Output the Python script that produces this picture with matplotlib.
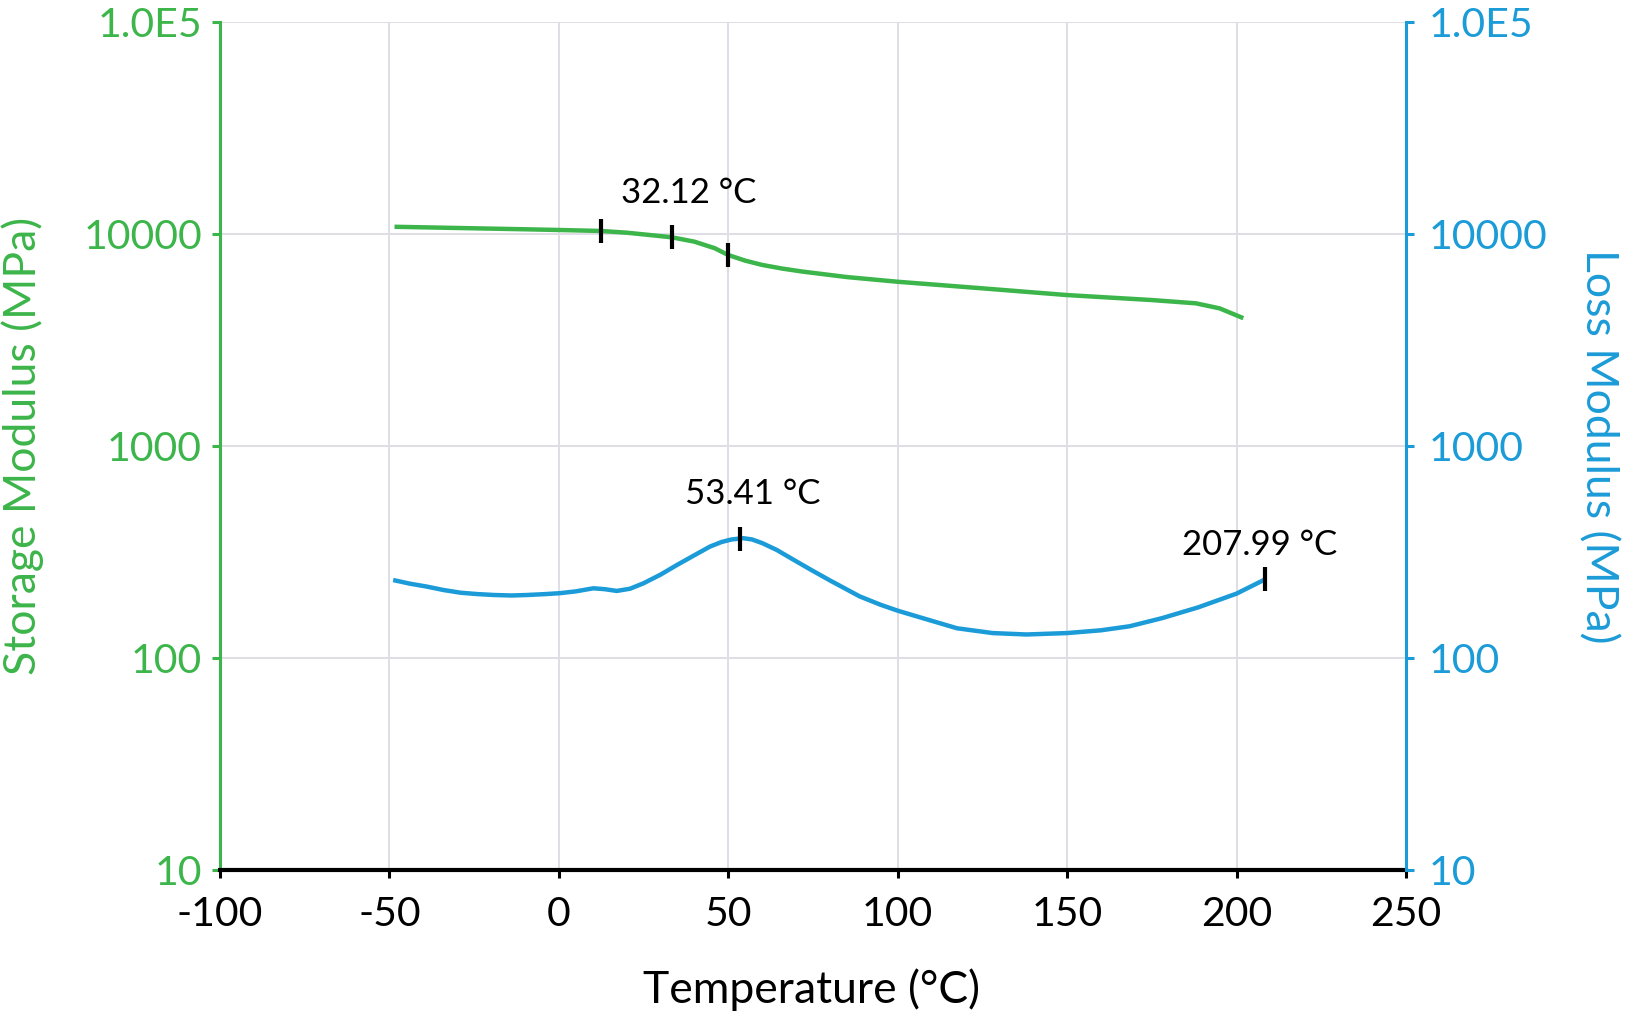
import numpy as np
import matplotlib
matplotlib.use("Agg")
import matplotlib.pyplot as plt
from matplotlib.ticker import FixedLocator, FixedFormatter, NullLocator

# ---------------- data ----------------
storage_temp = [-48.5, -30, -10, 0, 12.4, 20, 27, 33.4, 40, 46, 49.9, 55, 60, 66, 72,
                85, 100, 125, 150, 175, 188, 195, 202]
storage_mod = [10790, 10650, 10500, 10420, 10310, 10120, 9860, 9620, 9180, 8550, 7950,
               7470, 7130, 6850, 6630, 6250, 5940, 5530, 5140, 4870, 4700, 4450, 4000]

loss_temp = [-48.9, -44, -39, -34, -29, -24, -19, -14, -9.5, -4, 0.3, 5, 10.2, 13.5, 17.1,
             21, 25, 30, 34.8, 40, 44.6, 48, 51, 54.4, 57, 60, 64.3, 69, 74.1, 80, 88.8,
             95, 100, 108, 117.5, 128, 138, 150, 160, 168.4, 178, 188.6, 200, 208.5]
loss_mod = [233, 224, 217, 209, 203, 200, 198, 197, 198, 200, 202, 206, 213, 211, 207,
            212, 225, 247, 274, 305, 335, 352, 362, 367, 362, 348, 323, 292, 262, 232, 195,
            178, 167, 153, 138, 131, 129, 131, 135, 141, 154, 173, 201, 235]

storage_markers = [12.4, 33.4, 49.9]
storage_label = "32.12 °C"
loss_markers = [53.41, 208.5]
loss_labels = ["53.41 °C", "207.99 °C"]

x_ticks = [-100, -50, 0, 50, 100, 150, 200, 250]
y_ticks = [10, 100, 1000, 10000, 100000]
y_tick_labels = ["10", "100", "1000", "10000", "1.0E5"]

GREEN = "#3cb54a"
BLUE = "#1b9bd7"
GRID = "#dedee4"

plt.rcParams['font.family'] = ['Lato', 'DejaVu Sans']

fig = plt.figure(figsize=(16.25, 10.14), dpi=100)
ax = fig.add_axes([0.1354, 0.142, 0.7298, 0.8366])
ax2 = ax.twinx()

for a in (ax, ax2):
    a.set_yscale('log')
    a.set_ylim(10, 100000)
    a.yaxis.set_major_locator(FixedLocator(y_ticks))
    a.yaxis.set_major_formatter(FixedFormatter(y_tick_labels))
    a.yaxis.set_minor_locator(NullLocator())
ax.set_xlim(-100, 250)
ax.set_xticks(x_ticks)
ax.set_xticklabels([str(v) for v in x_ticks])

ax.grid(True, color=GRID, lw=1.4, zorder=0)
ax.set_axisbelow(True)

ax.spines['top'].set_visible(False)
ax.spines['right'].set_visible(False)
ax.spines['left'].set_color(GREEN)
ax.spines['left'].set_linewidth(2.2)
ax.spines['bottom'].set_color('black')
ax.spines['bottom'].set_linewidth(3.0)
ax.spines['bottom'].set_zorder(5)
for s in ('top', 'left', 'bottom'):
    ax2.spines[s].set_visible(False)
ax2.spines['right'].set_color(BLUE)
ax2.spines['right'].set_linewidth(2.2)

tick_font = 29.5
ax.tick_params(axis='y', colors=GREEN, labelcolor=GREEN, length=6, width=2.2,
               labelsize=tick_font, pad=7)
ax.tick_params(axis='x', colors='black', length=6, width=2.2, labelsize=tick_font, pad=13)
ax2.tick_params(axis='y', colors=BLUE, labelcolor=BLUE, length=6, width=2.2,
                labelsize=tick_font, pad=10)

label_font = 32
ax.set_xlabel("Temperature (°C)", fontsize=label_font, va='center', ha='center')
ax.xaxis.set_label_coords(0.499, -0.1415)
ax.set_ylabel("Storage Modulus (MPa)", fontsize=label_font, color=GREEN,
              va='center', ha='center')
ax.yaxis.set_label_coords(-0.166, 0.5)
ax2.set_ylabel("Loss Modulus (MPa)", fontsize=label_font, color=BLUE,
               rotation=270, va='center', ha='center')
ax2.yaxis.set_label_coords(1.162, 0.5)

ax.plot(storage_temp, storage_mod, color=GREEN, lw=3.2, zorder=3,
        solid_capstyle='butt', solid_joinstyle='round')
ax2.plot(loss_temp, loss_mod, color=BLUE, lw=3.2, zorder=3,
         solid_capstyle='butt', solid_joinstyle='round')

# markers
def on_curve(t, xs, ys):
    return 10 ** np.interp(t, xs, np.log10(ys))

ann_font = 25
msize = 17
mew = 3.0
sm_y = [on_curve(t, storage_temp, storage_mod) for t in storage_markers]
ax.plot(storage_markers, sm_y, linestyle='none', marker='|', markersize=msize,
        markeredgewidth=mew, color='black', zorder=4)
ax.annotate(storage_label, (storage_markers[1], sm_y[1]), xytext=(12, 32),
            textcoords='offset points', ha='center', va='center', fontsize=ann_font,
            color='black')

lm_y = [on_curve(t, loss_temp, loss_mod) for t in loss_markers]
ax2.plot(loss_markers, lm_y, linestyle='none', marker='|', markersize=msize,
         markeredgewidth=mew, color='black', zorder=4)
ax2.annotate(loss_labels[0], (loss_markers[0], lm_y[0]), xytext=(9, 32),
             textcoords='offset points', ha='center', va='center', fontsize=ann_font,
             color='black')
ax2.annotate(loss_labels[1], (loss_markers[1], lm_y[1]), xytext=(-4, 25),
             textcoords='offset points', ha='center', va='center', fontsize=ann_font,
             color='black')

fig.savefig("out.png", dpi=100)
